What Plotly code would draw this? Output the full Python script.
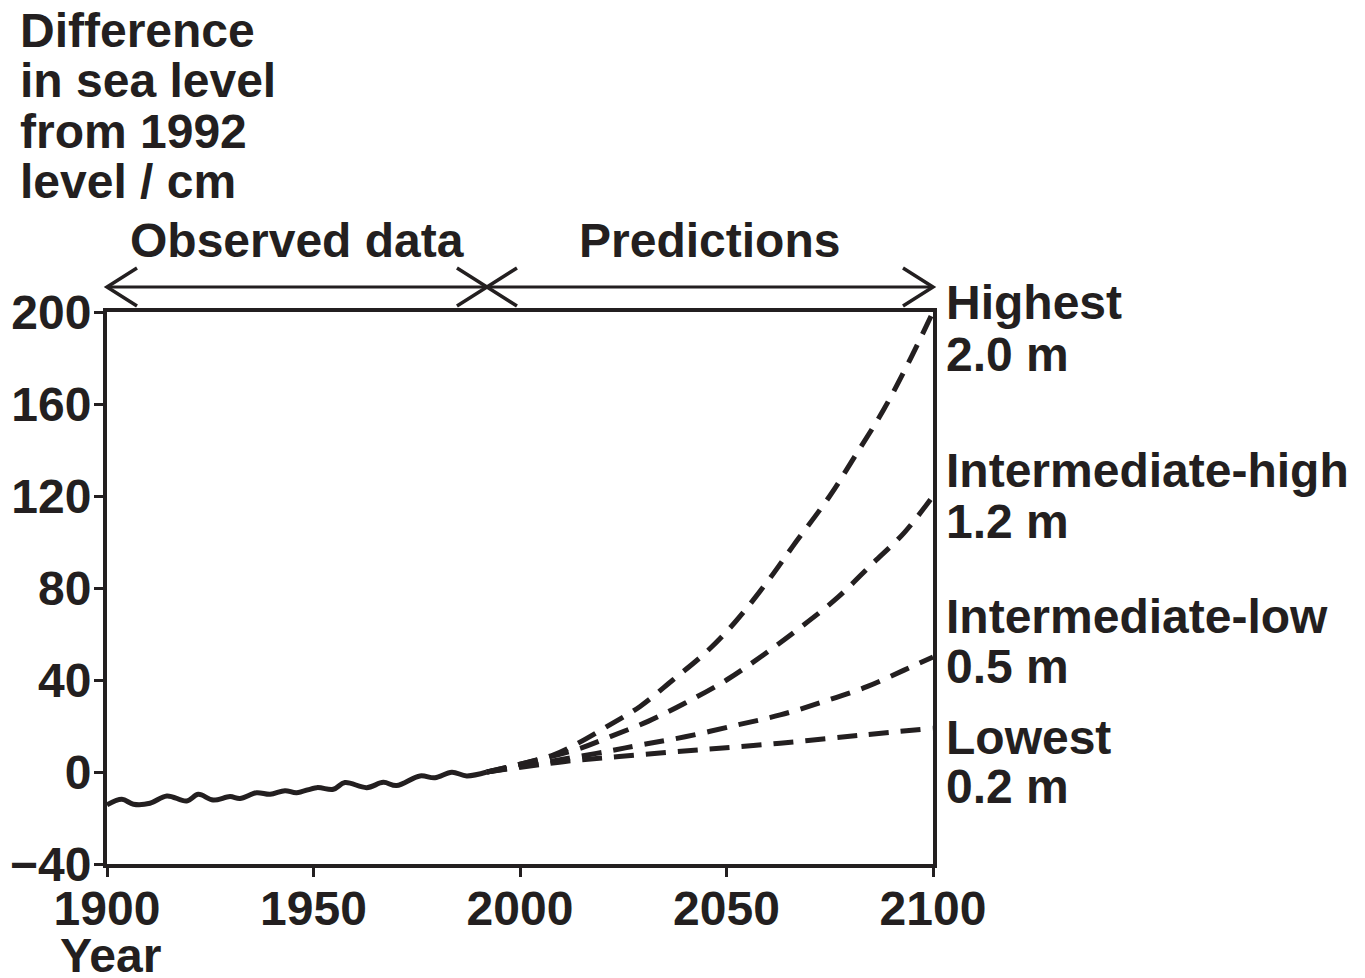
import plotly.graph_objects as go

# ---------------- data ----------------
obs_years = [1900, 1903.6, 1906.4, 1910.4, 1914.5, 1919.3, 1922.1, 1925.7, 1929.8, 1932.2,
             1936.2, 1939.5, 1943.1, 1945.9, 1950.8, 1954.8, 1957.6, 1962.9, 1966.9, 1970.1,
             1975.8, 1979.4, 1983.5, 1987.1, 1992]
obs_values = [-14.3, -11.9, -14.0, -13.6, -10.4, -12.6, -9.7, -12.2, -10.7, -11.5,
              -9.0, -9.7, -8.1, -9.0, -6.8, -7.5, -4.6, -6.8, -4.5, -5.9,
              -1.7, -2.5, -0.1, -1.7, 0.0]

high_years = [1992, 2008, 2014, 2021, 2029, 2037, 2045, 2052, 2060, 2066, 2075, 2081, 2088, 2094, 2100]
high_values = [0, 7.4, 12.5, 19.7, 28.4, 40, 52, 65, 83, 98, 120, 137, 157.4, 177.7, 200]

ihigh_years = [1992, 2014, 2022, 2031, 2040, 2050, 2059, 2068, 2077, 2085, 2093, 2100]
ihigh_values = [0, 10, 15.5, 22, 30, 40, 51, 63, 76, 90, 104, 120]

ilow_years = [1992, 2018.5, 2029, 2040, 2052.5, 2063, 2073.5, 2084, 2093, 2100]
ilow_values = [0, 8.1, 11.7, 15.3, 20.4, 24.8, 30.6, 37.1, 44.3, 50]

low_years = [1992, 2010.5, 2024, 2043, 2063, 2083, 2100]
low_values = [0, 4.5, 6.7, 9.6, 12.5, 16.1, 19]

x_ticks = [1900, 1950, 2000, 2050, 2100]
y_ticks = [-40, 0, 40, 80, 120, 160, 200]
x_range = [1900, 2100]
y_range = [-40, 200]
split_year = 1992

scenario_labels = [("Highest", "2.0 m", 204, 181.7),
                   ("Intermediate-high", "1.2 m", 131.3, 108.7),
                   ("Intermediate-low", "0.5 m", 67.8, 46.0),
                   ("Lowest", "0.2 m", 15.2, -6.5)]
y_title_lines = ["Difference", "in sea level", "from 1992", "level / cm"]

# ---------------- style ----------------
INK = "#231f20"
FONT = "Liberation Sans, Arial, Helvetica, sans-serif"
FS = 48
OFF = 8                      # default page body margin
FW, FH = 1365 - OFF, 978 - OFF
L, R, T, B = 107, 933, 312, 864   # target plot area in page pixels


def px(xp):
    return (xp - L) / (R - L)


def py(yp):
    return (B - yp) / (B - T)


def yr(year):
    return (year - x_range[0]) / (x_range[1] - x_range[0])


def yv(v):
    return (v - y_range[0]) / (y_range[1] - y_range[0])


bold = dict(family=FONT, size=FS, color=INK, weight="bold")

fig = go.Figure()
fig.add_trace(go.Scatter(x=obs_years, y=obs_values, mode="lines",
                         line=dict(color=INK, width=5, shape="spline", smoothing=1.0),
                         hoverinfo="skip", showlegend=False))
for xs, ys in [(high_years, high_values), (ihigh_years, ihigh_values),
               (ilow_years, ilow_values), (low_years, low_values)]:
    fig.add_trace(go.Scatter(x=xs, y=ys, mode="lines",
                             line=dict(color=INK, width=5, dash="20px,12px", shape="spline"),
                             hoverinfo="skip", showlegend=False))

axis_common = dict(showline=True, linecolor=INK, linewidth=4, mirror=True,
                   ticks="outside", ticklen=9, tickwidth=3, tickcolor=INK,
                   showgrid=False, zeroline=False, automargin=False,
                   tickfont=bold)
fig.update_xaxes(range=x_range, tickvals=x_ticks, ticklabelstandoff=-10, **axis_common)
fig.update_yaxes(range=y_range, tickvals=y_ticks, ticklabelstandoff=-7, **axis_common)

annotations = []
for i, t in enumerate(y_title_lines):
    annotations.append(dict(text=t, xref="paper", yref="paper", x=px(18), y=py(30 + i * 50.5),
                            xanchor="left", yanchor="middle", showarrow=False, font=bold))
annotations.append(dict(text="Year", xref="paper", yref="paper", x=px(110), y=py(955),
                        xanchor="center", yanchor="middle", showarrow=False, font=bold))
annotations.append(dict(text="Observed data", xref="paper", yref="paper",
                        x=yr((x_range[0] + split_year) / 2), y=py(240),
                        xanchor="center", yanchor="middle", showarrow=False, font=bold))
annotations.append(dict(text="Predictions", xref="paper", yref="paper",
                        x=yr((x_range[1] + split_year) / 2), y=py(240),
                        xanchor="center", yanchor="middle", showarrow=False, font=bold))
for name, val, y1, y2 in scenario_labels:
    for txt, yy in [(name, y1), (val, y2)]:
        annotations.append(dict(text=txt, xref="paper", yref="paper", x=1, y=yv(yy),
                                xanchor="left", yanchor="middle", xshift=11, showarrow=False,
                                font=bold))

# arrows
ay = py(287)
dx = 30 / (R - L)
dy = 19 / (B - T)
shapes = [dict(type="line", xref="paper", yref="paper", x0=yr(x_range[0]), x1=yr(x_range[1]),
               y0=ay, y1=ay, line=dict(color=INK, width=3))]


def head(tip, direction):
    bx = tip - direction * dx
    return dict(type="path", xref="paper", yref="paper",
                path=f"M {bx},{ay + dy} L {tip},{ay} L {bx},{ay - dy}",
                line=dict(color=INK, width=3.5))


shapes += [head(yr(x_range[0]), -1), head(yr(split_year), 1),
           head(yr(split_year), -1), head(yr(x_range[1]), 1)]

fig.update_layout(width=FW, height=FH,
                  margin=dict(l=L - OFF, r=FW - (R - OFF), t=T - OFF, b=FH - (B - OFF), pad=0),
                  paper_bgcolor="white", plot_bgcolor="white",
                  annotations=annotations, shapes=shapes, showlegend=False)

fig.write_html("out.html")
